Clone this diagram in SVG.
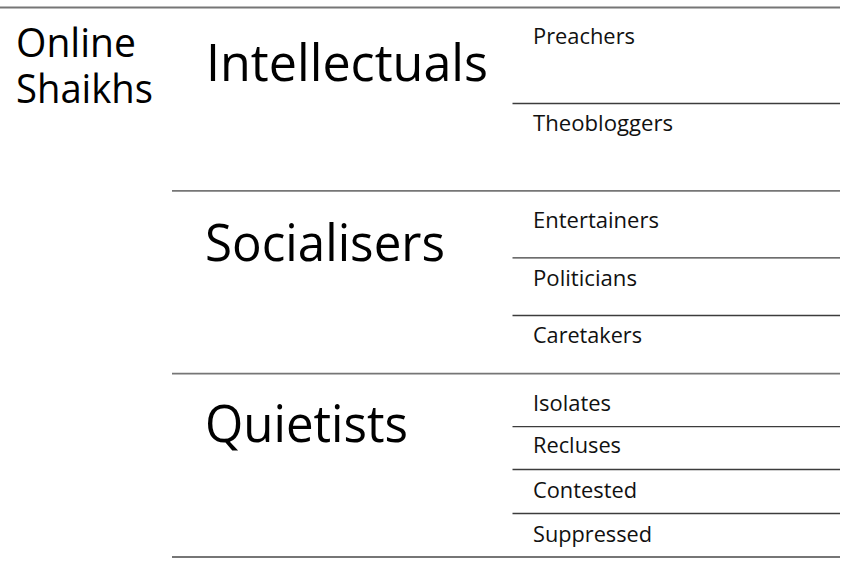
<svg xmlns="http://www.w3.org/2000/svg" width="850" height="563" viewBox="0 0 850 563">
  <style>
    text { font-family: "Open Sans", "Lato", "Liberation Sans", sans-serif; fill: #000; font-variant-ligatures: none; font-feature-settings: "liga" 0, "clig" 0; }
    .title { font-size: 40px; }
    .group { font-size: 52px; }
    .sub { font-size: 22.5px; fill: #111; }
    .major { stroke: #767676; stroke-width: 1.8; fill: none; }
    .minor { stroke: #3c3c3c; stroke-width: 1.3; fill: none; }
  </style>
  <rect width="850" height="563" fill="#fff"/>

  <!-- rule lines -->
  <g id="connectors">
    <line class="major" x1="0" y1="7.5" x2="840" y2="7.5"/>
    <line class="major" x1="172" y1="190.8" x2="840" y2="190.8"/>
    <line class="major" x1="172" y1="373.6" x2="840" y2="373.6"/>
    <line class="major" x1="172" y1="557" x2="840" y2="557"/>
    <line class="minor" x1="512.5" y1="103.5" x2="840" y2="103.5"/>
    <line class="minor" x1="512.5" y1="257.8" x2="840" y2="257.8"/>
    <line class="minor" x1="512.5" y1="315.5" x2="840" y2="315.5"/>
    <line class="minor" x1="512.5" y1="426.6" x2="840" y2="426.6"/>
    <line class="minor" x1="512.5" y1="469.5" x2="840" y2="469.5"/>
    <line class="minor" x1="512.5" y1="513.5" x2="840" y2="513.5"/>
  </g>

  <g id="online-shaikhs">
    <text class="title" x="16" y="57" textLength="120" lengthAdjust="spacingAndGlyphs">Online</text>
    <text class="title" x="16" y="103" textLength="137" lengthAdjust="spacingAndGlyphs">Shaikhs</text>
  </g>

  <g id="intellectuals">
    <text class="group" x="206" y="81" textLength="282" lengthAdjust="spacingAndGlyphs">Intellectuals</text>
  </g>
  <g id="socialisers">
    <text class="group" x="205" y="260.5" textLength="240" lengthAdjust="spacingAndGlyphs">Socialisers</text>
  </g>
  <g id="quietists">
    <text class="group" x="205" y="442" textLength="203" lengthAdjust="spacingAndGlyphs">Quietists</text>
  </g>

  <g id="preachers"><text class="sub" x="533" y="44.3" textLength="102" lengthAdjust="spacingAndGlyphs">Preachers</text></g>
  <g id="theobloggers"><text class="sub" x="533" y="130.7" textLength="140" lengthAdjust="spacingAndGlyphs">Theobloggers</text></g>
  <g id="entertainers"><text class="sub" x="533" y="227.7" textLength="126" lengthAdjust="spacingAndGlyphs">Entertainers</text></g>
  <g id="politicians"><text class="sub" x="533" y="286" textLength="104" lengthAdjust="spacingAndGlyphs">Politicians</text></g>
  <g id="caretakers"><text class="sub" x="533" y="343.3" textLength="109" lengthAdjust="spacingAndGlyphs">Caretakers</text></g>
  <g id="isolates"><text class="sub" x="533" y="410.7" textLength="78" lengthAdjust="spacingAndGlyphs">Isolates</text></g>
  <g id="recluses"><text class="sub" x="533" y="453.3" textLength="88" lengthAdjust="spacingAndGlyphs">Recluses</text></g>
  <g id="contested"><text class="sub" x="533" y="498.3" textLength="104" lengthAdjust="spacingAndGlyphs">Contested</text></g>
  <g id="suppressed"><text class="sub" x="533" y="541.7" textLength="119" lengthAdjust="spacingAndGlyphs">Suppressed</text></g>
</svg>
